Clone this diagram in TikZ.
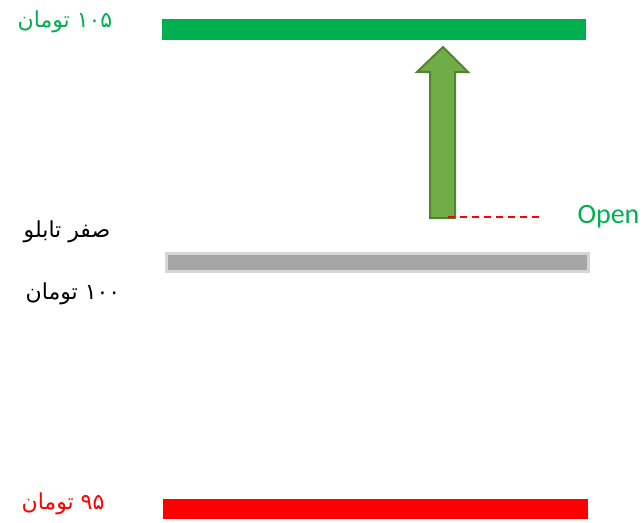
\documentclass[tikz,border=0pt]{standalone}
\usepackage{fontspec}
\usepackage{xcolor}
\usepackage{tikz}
\usetikzlibrary{positioning, calc}
\TeXXeTstate=1
\newfontfamily\arabicfont[Script=Arabic]{DejaVu Sans}
\newfontfamily\latinfont{Carlito}
\definecolor{upgreen}{RGB}{0, 176, 80}
\definecolor{arrowgreen}{RGB}{112, 173, 71}
\definecolor{arrowedge}{RGB}{84, 130, 53}
\definecolor{zerogray}{RGB}{166, 166, 166}
\definecolor{zeroedge}{RGB}{214, 214, 214}
\definecolor{downred}{RGB}{255, 0, 0}
\tikzset{
    pricebar/.style={inner sep=0pt, minimum width=318.75pt, minimum height=15.5pt},
    pricelabel/.style={inner sep=0pt, font=\arabicfont\fontsize{16.5}{20}\selectfont}
}

\begin{document}
\begin{tikzpicture}[x=0.75pt, y=-0.75pt]
        \useasboundingbox (0,0) rectangle (643,522);

        % 105 Bar
        \node[pricebar, fill=upgreen, minimum width=318pt] (highbar) at (374,29.5) {};
        \node[pricelabel, text=upgreen] (highlabel) at (65,22) {\beginR ۱۰۵ تومان\endR};

        % Zero Bar
        \node[pricebar, fill=zerogray, draw=zeroedge, line width=2.25pt,
              minimum width=316.5pt, minimum height=13.5pt] (zerobar) at (377.5,262.5) {};
        \node[pricelabel, text=black] (zerolabel) at (67,232) {\beginR صفر تابلو\endR};
        \node[pricelabel, text=black] (pricelabel) at (73,294) {\beginR ۱۰۰ تومان\endR};

        % 95 Bar
        \node[pricebar, fill=downred, minimum height=15pt] (lowbar) at (375.5,509) {};
        \node[pricelabel, text=downred] (lowlabel) at (63,504) {\beginR ۹۵ تومان\endR};

        % Arrow
        \draw[arrowedge, fill=arrowgreen, line width=1.5pt, line join=miter]
            (430,218) -- (430,72) -- (417,72) -- (443,47) -- (468,72) -- (455,72) -- (455,218) -- cycle;
        \coordinate (openpt) at (448,216.5);

        % Open
        \node[inner sep=0pt, text=upgreen, font=\latinfont\fontsize{21}{25}\selectfont] (openlabel) at (608.5,217) {Open};
        \coordinate (dashend) at (540,216.5);
        \draw[downred, line width=1.5pt, dash pattern=on 5.25pt off 3.75pt] (openpt) -- (dashend);
    \end{tikzpicture}
\end{document}
